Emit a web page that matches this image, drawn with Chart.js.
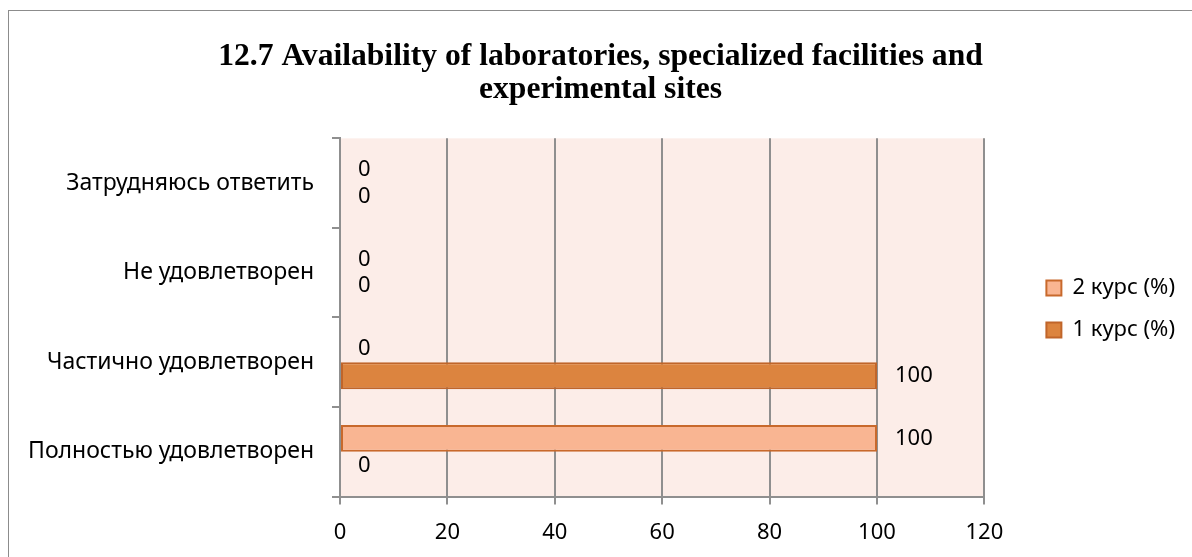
<!DOCTYPE html>
<html>
<head>
<meta charset="utf-8">
<script src="https://cdn.jsdelivr.net/npm/chart.js@4"></script>
<style>
  html, body { margin: 0; padding: 0; background: #fff; overflow: hidden; }
  #box { position: absolute; left: 8px; top: 10px; width: 1190px; height: 560px; border: 1px solid #8c8c8c; }
  #wrap { position: absolute; left: 0; top: 0; width: 1183px; height: 554px; }
</style>
</head>
<body>
<div id="box"><div id="wrap"><canvas id="c"></canvas></div></div>
<script>
// categories top to bottom (as drawn)
const categories = ['Затрудняюсь ответить', 'Не удовлетворен', 'Частично удовлетворен', 'Полностью удовлетворен'];
const course2 = [0, 0, 0, 100];
const course1 = [0, 0, 100, 0];
const xTicks = [0, 20, 40, 60, 80, 100, 120];

const labelFont = { family: "'Noto Sans', sans-serif", size: 22 };
const catFont = { family: "'Noto Sans', sans-serif", size: 23 };

// pale fill behind the plot
const plotBg = {
  id: 'plotBg',
  beforeDraw(chart) {
    const a = chart.chartArea, ctx = chart.ctx;
    ctx.save();
    ctx.fillStyle = '#FCEDE8';
    ctx.fillRect(a.left, a.top, a.right - a.left, a.bottom - a.top);
    ctx.restore();
  }
};

// leave a wider gap between plot and legend, push legend a bit lower
const legendGap = {
  id: 'legendGap',
  beforeLayout(chart) {
    const lg = chart.legend;
    if (lg && !lg._gapPatched) {
      const fit = lg.fit;
      lg.fit = function () { fit.call(this); this.width += 49; };
      lg._gapPatched = true;
    }
  },
  afterLayout(chart) {
    const lg = chart.legend;
    lg.left += 42;
    lg.top += 23;
    lg.bottom += 23;
  }
};

// value labels past the end of each bar
const valueLabels = {
  id: 'valueLabels',
  afterDatasetsDraw(chart) {
    const ctx = chart.ctx;
    ctx.save();
    ctx.font = labelFont.size + 'px ' + labelFont.family;
    ctx.fillStyle = '#000';
    ctx.textAlign = 'left';
    ctx.textBaseline = 'middle';
    chart.data.datasets.forEach((ds, i) => {
      chart.getDatasetMeta(i).data.forEach((bar, j) => {
        ctx.fillText(String(ds.data[j]), bar.x + 18, bar.y);
      });
    });
    ctx.restore();
  }
};

new Chart(document.getElementById('c'), {
  type: 'bar',
  data: {
    labels: categories,
    datasets: [
      { label: '2 курс (%)', data: course2, backgroundColor: '#F9B592', borderColor: '#C8692C', borderWidth: 2, borderSkipped: false },
      { label: '1 курс (%)', data: course1, backgroundColor: '#DC843F', borderColor: '#C0652A', borderWidth: 2, borderSkipped: false }
    ]
  },
  options: {
    indexAxis: 'y',
    responsive: true,
    maintainAspectRatio: false,
    animation: false,
    datasets: { bar: { categoryPercentage: 0.6, barPercentage: 1.0 } },
    layout: { padding: { top: 0, right: 0, bottom: 4, left: 0 } },
    plugins: {
      title: {
        display: true,
        text: ['12.7 Availability of laboratories, specialized facilities and', 'experimental sites'],
        color: '#000',
        font: { family: "'Liberation Serif', serif", size: 31.6, weight: 'bold', lineHeight: 1.05 },
        padding: { top: 29, bottom: 32 }
      },
      legend: {
        position: 'right',
        labels: {
          color: '#000',
          font: labelFont,
          boxWidth: 15,
          boxHeight: 15,
          padding: 20
        }
      },
      tooltip: { enabled: false }
    },
    scales: {
      x: {
        min: 0, max: 120,
        afterBuildTicks(scale) { scale.ticks = xTicks.map(v => ({ value: v })); },
        grid: { color: '#8f8f8f', lineWidth: 2, tickLength: 8, drawTicks: true },
        border: { color: '#8f8f8f', width: 2 },
        ticks: { color: '#000', font: labelFont, padding: 15 }
      },
      y: {
        afterFit(scale) { scale.width = 331; },
        grid: { drawOnChartArea: false, color: '#8f8f8f', lineWidth: 2, tickLength: 8, offset: true },
        border: { color: '#8f8f8f', width: 2 },
        ticks: { color: '#000', font: catFont, padding: 18 }
      }
    }
  },
  plugins: [plotBg, legendGap, valueLabels]
});
</script>
</body>
</html>
